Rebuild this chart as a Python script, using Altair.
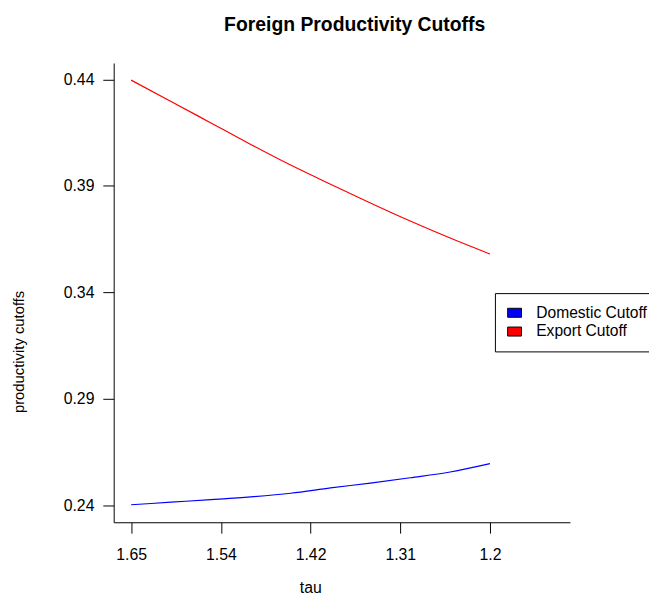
import altair as alt
import pandas as pd

# ---- data ----
tau = [1.65, 1.60, 1.55, 1.50, 1.45, 1.40, 1.35, 1.30, 1.25, 1.20]
domestic_cutoff = [0.2402, 0.2414, 0.2426, 0.2439, 0.2456, 0.2481, 0.2504, 0.2529, 0.2556, 0.2595]
export_cutoff = [0.4397, 0.4297, 0.4196, 0.4095, 0.3998, 0.3908, 0.3820, 0.3735, 0.3655, 0.3580]
series_names = ["Domestic Cutoff", "Export Cutoff"]
series_colors = ["#0000FF", "#FF0000"]
x_tick_values = [1.65, 1.5375, 1.425, 1.3125, 1.2]
x_tick_labels = ["1.65", "1.54", "1.42", "1.31", "1.2"]
y_tick_values = [0.24, 0.29, 0.34, 0.39, 0.44]

rows = []
for t, d, e in zip(tau, domestic_cutoff, export_cutoff):
    rows.append({"tau": t, "value": d, "series": series_names[0], "col": series_colors[0]})
    rows.append({"tau": t, "value": e, "series": series_names[1], "col": series_colors[1]})
df = pd.DataFrame(rows)

FONT = "Liberation Sans"

label_expr = "[" + ",".join("'" + s + "'" for s in x_tick_labels) + "][indexof([" + \
    ",".join(repr(v) for v in x_tick_values) + "], datum.value)]"

x_axis = alt.Axis(
    values=x_tick_values, labelExpr=label_expr, title="tau", labelPadding=14,
    titleX=199, titleY=71, titleAlign="center", titleBaseline="alphabetic",
    titleAnchor="start",
)
y_axis = alt.Axis(
    values=y_tick_values, format=".2f", title="productivity cutoffs", titleFontSize=15,
    titleAngle=270, titleX=-91, titleY=292, titleAlign="center",
    titleBaseline="alphabetic", titleAnchor="start",
)

x_enc = alt.X("tau:Q", scale=alt.Scale(domain=[1.6719, 1.0997], nice=False, zero=False), axis=x_axis)
y_enc = alt.Y("value:Q", scale=alt.Scale(domain=[0.23197, 0.44775], nice=False, zero=False), axis=y_axis)

legend = alt.Legend(
    title=None, orient="none", legendX=386, legendY=233,
    symbolType="M-1,-0.65L1,-0.65L1,0.65L-1,0.65Z", symbolSize=196,
    symbolStrokeWidth=1, symbolStrokeColor="black", symbolOpacity=1,
    labelFontSize=15.8, labelFont=FONT, labelColor="black",
    labelExpr="datum.label + '\u00a0\u00a0\u00a0'",
    labelOffset=14, padding=12, rowPadding=2,
    strokeColor="black", fillColor="white", cornerRadius=0,
)

base = alt.Chart(df)

lines = base.mark_line(strokeWidth=1.2, interpolate="monotone").encode(
    x=x_enc, y=y_enc,
    detail="series:N",
    stroke=alt.Stroke("col:N", scale=None),
)

legend_layer = base.mark_point(
    shape="M-1,-0.65L1,-0.65L1,0.65L-1,0.65Z", filled=True, stroke="black", strokeWidth=1,
    size=196, opacity=0,
).encode(
    x=x_enc, y=y_enc,
    fill=alt.Fill("series:N", scale=alt.Scale(domain=series_names, range=series_colors), legend=legend),
)

chart = alt.layer(lines, legend_layer).properties(
    width=462, height=465,
    title=alt.TitleParams(
        "Foreign Productivity Cutoffs", anchor="middle", frame="group", dx=13,
        fontSize=19.6, fontWeight="bold", font=FONT, color="black",
        baseline="alphabetic", offset=13,
    ),
    padding={"left": 107, "top": 52, "right": 80, "bottom": 74},
    autosize=alt.AutoSizeParams(type="none"),
    background="white",
).configure_view(stroke=None).configure_axis(
    grid=False, domainColor="black", domainWidth=1, tickColor="black", tickWidth=1,
    tickSize=11, labelFont=FONT, labelFontSize=16, labelColor="black", labelPadding=9,
    titleFont=FONT, titleFontSize=16, titleColor="black", titleFontWeight="normal",
    labelFlush=False, labelOverlap=False,
)

chart.save("out.html", embed_options={"renderer": "svg", "actions": False})
